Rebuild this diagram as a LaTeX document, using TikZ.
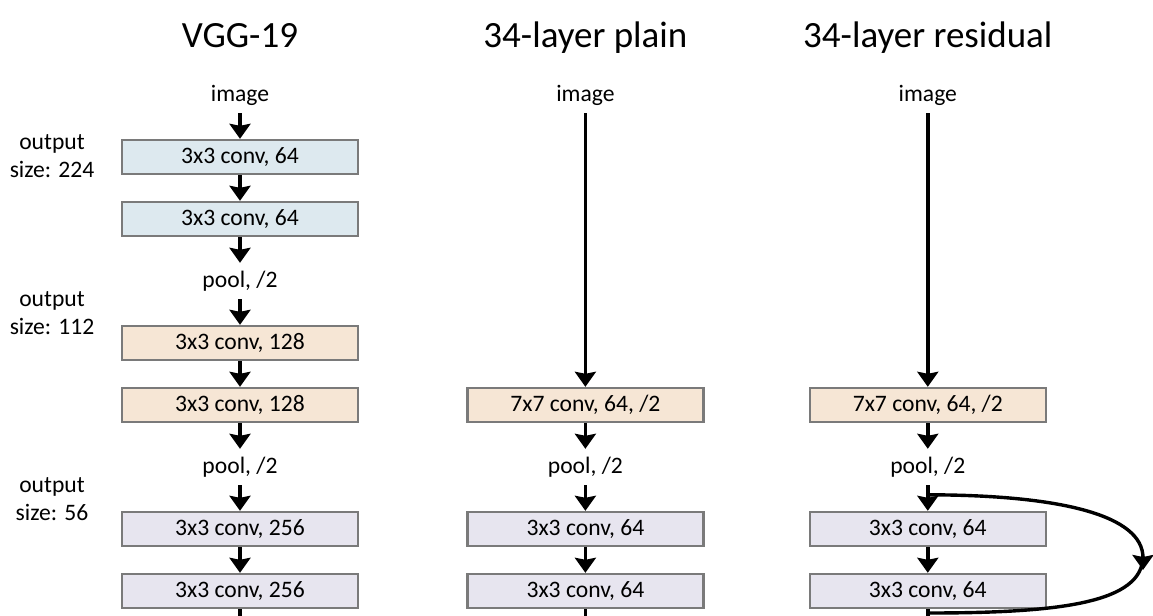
\documentclass[tikz,border=0pt]{standalone}
\usepackage{fontspec}
\setmainfont{Carlito}
\usepackage{xcolor}
\usetikzlibrary{arrows.meta,positioning,calc}

\definecolor{convblue}{HTML}{DDE9EF}
\definecolor{convbeige}{HTML}{F6E6D5}
\definecolor{convlilac}{HTML}{E7E5EF}
\definecolor{boxgray}{HTML}{7A7A7A}

\begin{document}
\begin{tikzpicture}[
    x=0.5pt, y=-0.5pt,
    node distance=12.8pt,
    layer/.style={rectangle, draw=boxgray, line width=1.2pt, minimum width=118pt, minimum height=17pt, inner sep=0pt, font=\fontsize{11.8}{13}\selectfont},
    lbl/.style={minimum height=17pt, inner sep=0pt, outer sep=0.6pt, font=\fontsize{11.8}{13}\selectfont},
    title/.style={anchor=base, font=\fontsize{18.5}{22}\selectfont},
    side/.style={align=center, font=\fontsize{11.8}{14}\selectfont},
    flow/.style={-{Stealth[length=7.5pt, width=10.5pt, inset=1pt]}, line width=1.7pt},
    stub/.style={line width=1.7pt},
]
    \useasboundingbox (0,0) rectangle (1153,616);

    % VGG-19
    \node[lbl] (vimg) at (240,95) {image};
    \node[layer, fill=convblue, below=of vimg] (v1) {3x3 conv, 64};
    \node[layer, fill=convblue, below=of v1] (v2) {3x3 conv, 64};
    \node[lbl, below=of v2] (vpool1) {pool, /2};
    \node[layer, fill=convbeige, below=of vpool1] (v3) {3x3 conv, 128};
    \node[layer, fill=convbeige, below=of v3] (v4) {3x3 conv, 128};
    \node[lbl, below=of v4] (vpool2) {pool, /2};
    \node[layer, fill=convlilac, below=of vpool2] (v5) {3x3 conv, 256};
    \node[layer, fill=convlilac, below=of v5] (v6) {3x3 conv, 256};
    \coordinate (vend) at (v6 |- 0,616);

    % 34-layer plain
    \node[layer, fill=convbeige, right=53.5pt of v4] (p7) {7x7 conv, 64, /2};
    \node[lbl] (pimg) at (p7 |- vimg) {image};
    \node[lbl, below=of p7] (ppool) {pool, /2};
    \node[layer, fill=convlilac, below=of ppool] (p1) {3x3 conv, 64};
    \node[layer, fill=convlilac, below=of p1] (p2) {3x3 conv, 64};
    \coordinate (pend) at (p2 |- 0,616);

    % 34-layer residual
    \node[layer, fill=convbeige, right=52pt of p7] (r7) {7x7 conv, 64, /2};
    \node[lbl] (rimg) at (r7 |- vimg) {image};
    \node[lbl, below=of r7] (rpool) {pool, /2};
    \node[layer, fill=convlilac, below=of rpool] (r1) {3x3 conv, 64};
    \node[layer, fill=convlilac, below=of r1] (r2) {3x3 conv, 64};
    \coordinate (rend) at (r2 |- 0,616);

    % titles
    \node[title] (vtitle) at (vimg |- 0,47) {VGG-19};
    \node[title] (ptitle) at (pimg |- 0,47) {34-layer plain};
    \node[title] (rtitle) at (rimg |- 0,47) {34-layer residual};

    % output sizes
    \node[side] (s224) at (52,156) {output\\size: 224};
    \node[side] (s112) at (52,313) {output\\size: 112};
    \node[side] (s56) at (52,499) {output\\size: 56};

    % arrows
    \draw[flow] (vimg) -- (v1);
    \draw[flow] (v1) -- (v2);
    \draw[flow] (v2) -- (vpool1);
    \draw[flow] (vpool1) -- (v3);
    \draw[flow] (v3) -- (v4);
    \draw[flow] (v4) -- (vpool2);
    \draw[flow] (vpool2) -- (v5);
    \draw[flow] (v5) -- (v6);
    \draw[stub] (v6) -- (vend);

    \draw[flow] (pimg) -- (p7);
    \draw[flow] (p7) -- (ppool);
    \draw[flow] (ppool) -- (p1);
    \draw[flow] (p1) -- (p2);
    \draw[stub] (p2) -- (pend);

    \draw[flow] (rimg) -- (r7);
    \draw[flow] (r7) -- (rpool);
    \draw[flow] (rpool) -- (r1);
    \draw[flow] (r1) -- (r2);
    \draw[stub] (r2) -- (rend);

    % shortcut
    \coordinate (skipa) at ($(r1.north)+(0,-16)$);
    \coordinate (skipb) at (1143,570);
    \coordinate (skipm) at (1143,556);
    \coordinate (skipc) at (r2 |- 0,613);
    \draw[flow] (skipa) .. controls (1060,495) and (1143,515) .. (skipb);
    \draw[stub] (skipm) .. controls (1143,603) and (1060,613) .. (skipc);
\end{tikzpicture}
\end{document}
